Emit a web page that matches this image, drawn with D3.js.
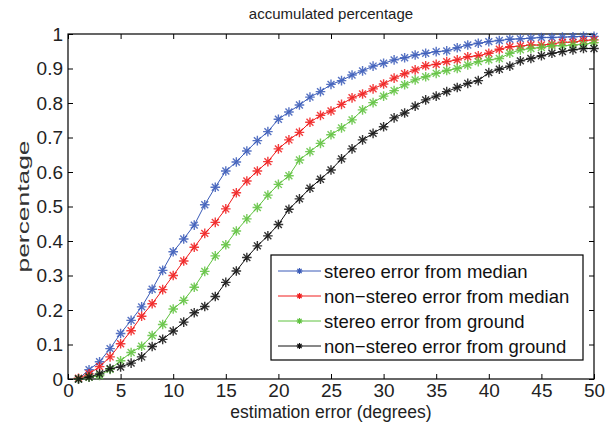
<!DOCTYPE html>
<html>
<head>
<meta charset="utf-8">
<script src="https://cdn.jsdelivr.net/npm/d3@7"></script>
<style>
  body { margin: 0; background: #fff; }
  svg { font-family: "Liberation Sans", Arial, Helvetica, sans-serif; }
</style>
</head>
<body>
<div id="chart"></div>
<script>
const degrees = [1, 2, 3, 4, 5, 6, 7, 8, 9, 10, 11, 12, 13, 14, 15, 16, 17, 18, 19, 20,
    21, 22, 23, 24, 25, 26, 27, 28, 29, 30, 31, 32, 33, 34, 35, 36, 37, 38, 39, 40,
    41, 42, 43, 44, 45, 46, 47, 48, 49, 50];

const stereoMedian = [0.0, 0.027, 0.05, 0.088, 0.132, 0.17, 0.209, 0.26, 0.315, 0.369,
    0.406, 0.446, 0.505, 0.556, 0.603, 0.629, 0.661, 0.691, 0.717, 0.753,
    0.774, 0.794, 0.817, 0.833, 0.854, 0.865, 0.881, 0.893, 0.907, 0.915,
    0.925, 0.931, 0.939, 0.944, 0.949, 0.951, 0.96, 0.968, 0.973, 0.978,
    0.981, 0.985, 0.986, 0.988, 0.99, 0.99, 0.991, 0.992, 0.993, 0.993];

const nonStereoMedian = [0.002, 0.015, 0.036, 0.064, 0.102, 0.14, 0.182, 0.218, 0.259, 0.30,
    0.342, 0.382, 0.422, 0.454, 0.493, 0.54, 0.574, 0.603, 0.63, 0.667,
    0.693, 0.715, 0.744, 0.764, 0.777, 0.796, 0.815, 0.826, 0.841, 0.855,
    0.872, 0.885, 0.896, 0.908, 0.912, 0.92, 0.925, 0.934, 0.937, 0.944,
    0.956, 0.963, 0.965, 0.968, 0.968, 0.971, 0.976, 0.976, 0.981, 0.983];

const stereoGround = [0.0, 0.005, 0.01, 0.028, 0.053, 0.077, 0.095, 0.126, 0.158, 0.203,
    0.228, 0.266, 0.312, 0.357, 0.389, 0.429, 0.464, 0.497, 0.533, 0.564,
    0.589, 0.635, 0.659, 0.683, 0.708, 0.728, 0.751, 0.78, 0.801, 0.82,
    0.836, 0.853, 0.867, 0.876, 0.886, 0.894, 0.9, 0.91, 0.92, 0.925,
    0.929, 0.944, 0.954, 0.958, 0.961, 0.966, 0.966, 0.968, 0.97, 0.975];

const nonStereoGround = [0.0, 0.006, 0.015, 0.03, 0.035, 0.046, 0.064, 0.094, 0.115, 0.139,
    0.165, 0.192, 0.21, 0.239, 0.28, 0.313, 0.352, 0.386, 0.415, 0.448,
    0.492, 0.522, 0.553, 0.579, 0.606, 0.638, 0.667, 0.693, 0.712, 0.731,
    0.757, 0.771, 0.791, 0.809, 0.82, 0.833, 0.845, 0.857, 0.865, 0.888,
    0.898, 0.907, 0.922, 0.929, 0.937, 0.944, 0.949, 0.954, 0.958, 0.958];

const seriesNames = ["stereo error from median", "non\u2212stereo error from median",
    "stereo error from ground", "non\u2212stereo error from ground"];
const seriesColors = ["#3a5bb8", "#f01c1c", "#5fc23e", "#111111"];
const seriesValues = [stereoMedian, nonStereoMedian, stereoGround, nonStereoGround];

const xTicks = [0, 5, 10, 15, 20, 25, 30, 35, 40, 45, 50];
const yTicks = [0, 0.1, 0.2, 0.3, 0.4, 0.5, 0.6, 0.7, 0.8, 0.9, 1];

const W = 605, H = 426;
const margin = {top: 34, right: 11, bottom: 47, left: 68};
const width = W - margin.left - margin.right;
const height = H - margin.top - margin.bottom;

const svg = d3.select("#chart")
    .append("svg")
    .attr("width", W)
    .attr("height", H);

const xScale = d3.scaleLinear().domain([0, 50]).range([0, width]);
const yScale = d3.scaleLinear().domain([0, 1]).range([height, 0]);

const g = svg.append("g")
    .attr("transform", `translate(${margin.left},${margin.top})`);

// axes, MATLAB style: ticks inward on all four sides
const tickLen = 5;
function styleAxis(sel) {
    sel.select(".domain").remove();
    sel.selectAll(".tick line").attr("stroke", "#000").attr("stroke-width", 1);
    sel.selectAll("text").attr("font-size", "19px").attr("fill", "#222");
}

g.append("g")
    .attr("transform", `translate(0,${height})`)
    .call(d3.axisBottom(xScale).tickValues(xTicks).tickSize(-tickLen).tickPadding(5).tickFormat(d3.format("d")))
    .call(styleAxis);
g.append("g")
    .call(d3.axisTop(xScale).tickValues(xTicks).tickSize(-tickLen).tickFormat(""))
    .call(styleAxis);
g.append("g")
    .call(d3.axisLeft(yScale).tickValues(yTicks).tickSize(-tickLen).tickPadding(5).tickFormat(d => d === 0 || d === 1 ? d3.format("d")(d) : d3.format(".1f")(d)))
    .call(styleAxis);
g.append("g")
    .attr("transform", `translate(${width},0)`)
    .call(d3.axisRight(yScale).tickValues(yTicks).tickSize(-tickLen).tickFormat(""))
    .call(styleAxis);

g.append("rect")
    .attr("x", 0).attr("y", 0)
    .attr("width", width).attr("height", height)
    .attr("fill", "none")
    .attr("stroke", "#000")
    .attr("stroke-width", 1.2);

// asterisk marker
function asterisk(sel, r) {
    const d = r * 0.72;
    sel.append("path")
        .attr("d", `M${-r},0H${r}M0,${-r}V${r}M${-d},${-d}L${d},${d}M${-d},${d}L${d},${-d}`);
}

const line = d3.line()
    .x((d, i) => xScale(degrees[i]))
    .y(d => yScale(d));

seriesValues.forEach((vals, k) => {
    g.append("path")
        .datum(vals)
        .attr("fill", "none")
        .attr("stroke", seriesColors[k])
        .attr("stroke-width", 1)
        .attr("d", line);

    g.selectAll(`.marker${k}`)
        .data(vals)
        .enter().append("g")
        .attr("class", `marker${k}`)
        .attr("transform", (d, i) => `translate(${xScale(degrees[i])},${yScale(d)})`)
        .attr("stroke", seriesColors[k])
        .attr("stroke-width", 1.4)
        .attr("stroke-opacity", 0.85)
        .each(function() { asterisk(d3.select(this), 4.8); });
});

// legend
const legend = svg.append("g").attr("transform", "translate(271,255)");
legend.append("rect")
    .attr("width", 312).attr("height", 105)
    .attr("fill", "#fff")
    .attr("stroke", "#000")
    .attr("stroke-width", 1.2);

seriesNames.forEach((name, k) => {
    const yy = 16 + k * 25;
    const row = legend.append("g").attr("transform", `translate(0,${yy})`);
    row.append("line")
        .attr("x1", 7).attr("x2", 50)
        .attr("stroke", seriesColors[k])
        .attr("stroke-width", 1);
    const m = row.append("g")
        .attr("transform", "translate(28.5,0)")
        .attr("stroke", seriesColors[k])
        .attr("stroke-width", 1.2);
    asterisk(m, 3);
    row.append("text")
        .attr("x", 53)
        .attr("y", 0)
        .attr("dy", "0.36em")
        .attr("font-size", "18.5px")
        .attr("fill", "#111")
        .text(name);
});

// titles
svg.append("text")
    .attr("x", margin.left + width / 2)
    .attr("y", 19)
    .attr("text-anchor", "middle")
    .attr("font-size", "15px")
    .attr("fill", "#222")
    .text("accumulated percentage");

svg.append("text")
    .attr("x", margin.left + width / 2)
    .attr("y", 418)
    .attr("text-anchor", "middle")
    .attr("font-size", "17.5px")
    .attr("fill", "#222")
    .text("estimation error (degrees)");

svg.append("text")
    .attr("transform", `translate(23,${margin.top + height / 2}) rotate(-90)`)
    .attr("text-anchor", "middle")
    .attr("dy", "0.35em")
    .attr("font-size", "16px")
    .attr("fill", "#333")
    .attr("textLength", 132)
    .attr("lengthAdjust", "spacingAndGlyphs")
    .attr("x", 0)
    .text("percentage");
</script>
</body>
</html>
